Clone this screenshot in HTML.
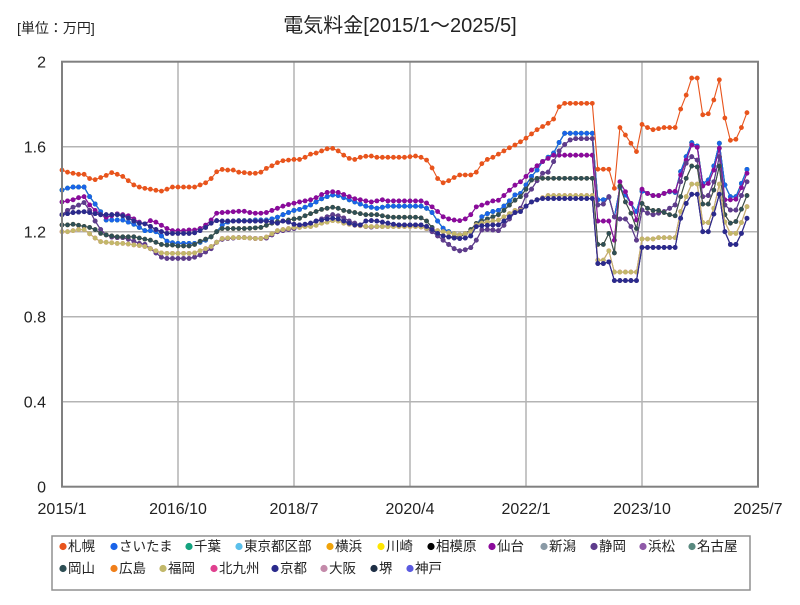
<!DOCTYPE html>
<html><head><meta charset="utf-8"><style>
body{margin:0;background:#fff}
svg text{font-family:"Liberation Sans","Noto Sans CJK JP",sans-serif}
</style></head><body>
<svg id="chart" width="800" height="600" xmlns="http://www.w3.org/2000/svg">
<rect width="800" height="600" fill="#fff"/>
<text x="400" y="32" text-anchor="middle" font-size="20" fill="#222">電気料金[2015/1～2025/5]</text>
<text x="17" y="33" font-size="14" fill="#222">[単位：万円]</text>
<g id="grid"></g>
<g id="series"></g>
<rect x="62" y="61.7" width="696" height="425" fill="none" stroke="#808080" stroke-width="2"/>
<g id="axes"></g>
<rect x="52" y="536" width="698" height="54" fill="#fff" stroke="#909090" stroke-width="1.5"/>
<g id="legend"></g>
</svg>
<script>
const yTicks=[0,0.4,0.8,1.2,1.6,2];
const yTickLabels=["0","0.4","0.8","1.2","1.6","2"];
const xTickIdx=[0,21,42,63,84,105,126];
const xTickLabels=["2015/1","2016/10","2018/7","2020/4","2022/1","2023/10","2025/7"];
const sapporo=[1.49,1.48,1.475,1.47,1.47,1.45,1.445,1.455,1.465,1.478,
1.47,1.46,1.44,1.42,1.41,1.404,1.40,1.395,1.391,1.40,
1.41,1.41,1.41,1.41,1.41,1.42,1.43,1.45,1.482,1.493,
1.49,1.49,1.48,1.478,1.475,1.475,1.48,1.498,1.51,1.525,
1.534,1.537,1.54,1.54,1.55,1.565,1.57,1.58,1.59,1.592,
1.58,1.56,1.545,1.54,1.55,1.555,1.556,1.55,1.55,1.55,
1.55,1.55,1.55,1.553,1.556,1.55,1.537,1.50,1.45,1.43,
1.44,1.455,1.467,1.467,1.467,1.48,1.52,1.54,1.55,1.565,
1.58,1.595,1.608,1.623,1.64,1.66,1.68,1.695,1.71,1.73,
1.788,1.804,1.804,1.804,1.804,1.804,1.804,1.494,1.494,1.494,
1.404,1.69,1.655,1.616,1.577,1.705,1.69,1.68,1.685,1.69,
1.69,1.69,1.777,1.843,1.923,1.923,1.75,1.755,1.82,1.915,
1.735,1.63,1.635,1.69,1.76];
const tepco=[1.396,1.405,1.41,1.41,1.41,1.365,1.33,1.294,1.255,1.255,
1.255,1.255,1.245,1.235,1.22,1.205,1.205,1.2,1.18,1.155,
1.148,1.145,1.145,1.145,1.145,1.15,1.16,1.176,1.2,1.231,
1.245,1.25,1.252,1.252,1.252,1.255,1.255,1.255,1.26,1.268,
1.28,1.29,1.3,1.305,1.315,1.326,1.34,1.355,1.365,1.373,
1.37,1.36,1.35,1.34,1.33,1.32,1.315,1.31,1.315,1.32,
1.32,1.32,1.32,1.32,1.32,1.32,1.31,1.29,1.25,1.216,
1.2,1.19,1.185,1.19,1.2,1.23,1.27,1.285,1.295,1.3,
1.32,1.345,1.373,1.38,1.42,1.46,1.49,1.53,1.55,1.57,
1.62,1.663,1.663,1.663,1.663,1.663,1.663,1.35,1.35,1.362,
1.27,1.407,1.372,1.333,1.295,1.39,1.38,1.37,1.37,1.38,
1.388,1.385,1.483,1.553,1.619,1.603,1.427,1.443,1.509,1.616,
1.42,1.365,1.365,1.427,1.493];
const tohoku=[1.34,1.345,1.35,1.36,1.365,1.326,1.30,1.28,1.268,1.275,
1.284,1.28,1.275,1.26,1.245,1.237,1.252,1.245,1.23,1.215,
1.205,1.205,1.205,1.208,1.208,1.215,1.231,1.255,1.287,1.29,
1.292,1.294,1.296,1.296,1.29,1.287,1.287,1.29,1.3,1.31,
1.32,1.328,1.334,1.34,1.345,1.35,1.36,1.375,1.385,1.388,
1.385,1.375,1.365,1.355,1.35,1.345,1.34,1.345,1.35,1.345,
1.345,1.345,1.345,1.345,1.345,1.345,1.335,1.317,1.295,1.27,
1.26,1.255,1.252,1.26,1.28,1.317,1.325,1.335,1.345,1.348,
1.37,1.395,1.419,1.435,1.46,1.49,1.51,1.53,1.545,1.56,
1.56,1.56,1.56,1.56,1.56,1.56,1.56,1.25,1.25,1.25,
1.16,1.435,1.388,1.333,1.255,1.40,1.38,1.37,1.37,1.38,
1.39,1.39,1.467,1.537,1.608,1.597,1.415,1.427,1.49,1.593,
1.35,1.35,1.353,1.407,1.475];
const chubu=[1.28,1.3,1.315,1.325,1.337,1.30,1.25,1.21,1.185,1.175,
1.172,1.172,1.165,1.155,1.145,1.14,1.12,1.10,1.08,1.074,
1.074,1.074,1.074,1.074,1.08,1.09,1.105,1.12,1.15,1.164,
1.168,1.17,1.172,1.172,1.17,1.168,1.168,1.17,1.185,1.2,
1.205,1.21,1.215,1.224,1.23,1.237,1.25,1.26,1.27,1.28,
1.275,1.265,1.25,1.24,1.23,1.224,1.222,1.224,1.225,1.225,
1.228,1.23,1.23,1.23,1.23,1.228,1.215,1.2,1.18,1.16,
1.14,1.12,1.11,1.115,1.125,1.16,1.208,1.21,1.208,1.205,
1.23,1.26,1.29,1.31,1.37,1.40,1.44,1.475,1.48,1.53,
1.58,1.61,1.632,1.638,1.638,1.638,1.638,1.326,1.33,1.365,
1.27,1.26,1.26,1.224,1.16,1.302,1.287,1.28,1.287,1.295,
1.31,1.326,1.435,1.522,1.553,1.537,1.365,1.37,1.435,1.553,
1.326,1.302,1.302,1.37,1.435];
const chugoku=[1.232,1.232,1.235,1.23,1.225,1.22,1.21,1.192,1.185,1.18,
1.176,1.176,1.176,1.176,1.17,1.165,1.16,1.15,1.14,1.137,
1.137,1.133,1.133,1.133,1.14,1.155,1.165,1.176,1.2,1.215,
1.215,1.215,1.215,1.215,1.216,1.218,1.22,1.23,1.24,1.247,
1.25,1.255,1.26,1.263,1.275,1.285,1.295,1.305,1.31,1.315,
1.31,1.3,1.295,1.29,1.285,1.28,1.28,1.28,1.275,1.27,
1.268,1.268,1.268,1.268,1.268,1.265,1.25,1.22,1.192,1.18,
1.176,1.176,1.176,1.19,1.21,1.239,1.25,1.26,1.27,1.28,
1.3,1.325,1.348,1.365,1.4,1.443,1.451,1.451,1.451,1.451,
1.451,1.451,1.451,1.451,1.451,1.451,1.451,1.14,1.14,1.192,
1.10,1.415,1.34,1.287,1.215,1.333,1.31,1.30,1.30,1.29,
1.28,1.275,1.365,1.451,1.509,1.505,1.33,1.33,1.396,1.509,
1.28,1.24,1.248,1.306,1.37];
const kyushu=[1.2,1.2,1.205,1.21,1.21,1.19,1.17,1.153,1.15,1.148,
1.145,1.145,1.142,1.138,1.135,1.13,1.12,1.11,1.10,1.098,
1.098,1.098,1.098,1.098,1.10,1.11,1.12,1.13,1.15,1.168,
1.17,1.172,1.172,1.172,1.17,1.168,1.168,1.175,1.19,1.205,
1.21,1.215,1.22,1.22,1.224,1.224,1.23,1.24,1.245,1.252,
1.25,1.24,1.235,1.23,1.228,1.225,1.224,1.224,1.224,1.224,
1.224,1.224,1.224,1.224,1.224,1.222,1.215,1.21,1.205,1.2,
1.195,1.19,1.185,1.19,1.2,1.232,1.24,1.245,1.25,1.255,
1.27,1.285,1.30,1.30,1.32,1.34,1.35,1.36,1.37,1.37,
1.37,1.37,1.37,1.37,1.37,1.37,1.37,1.066,1.066,1.11,
1.01,1.01,1.01,1.01,1.01,1.166,1.166,1.166,1.172,1.172,
1.172,1.172,1.295,1.365,1.424,1.424,1.243,1.243,1.31,1.424,
1.246,1.192,1.192,1.243,1.318];
const kansai=[1.28,1.285,1.29,1.292,1.294,1.29,1.285,1.28,1.28,1.28,
1.28,1.275,1.265,1.25,1.24,1.237,1.225,1.21,1.2,1.192,
1.192,1.192,1.192,1.192,1.195,1.205,1.22,1.24,1.252,1.25,
1.25,1.25,1.25,1.25,1.25,1.25,1.25,1.25,1.245,1.24,
1.25,1.245,1.235,1.232,1.235,1.24,1.25,1.255,1.26,1.263,
1.26,1.25,1.24,1.232,1.232,1.25,1.252,1.25,1.245,1.24,
1.235,1.232,1.232,1.232,1.232,1.232,1.225,1.21,1.192,1.18,
1.175,1.17,1.168,1.17,1.18,1.224,1.228,1.23,1.232,1.232,
1.25,1.27,1.29,1.295,1.32,1.34,1.35,1.356,1.356,1.356,
1.356,1.356,1.356,1.356,1.356,1.356,1.356,1.05,1.05,1.058,
0.97,0.97,0.97,0.97,0.97,1.126,1.126,1.126,1.126,1.126,
1.126,1.126,1.263,1.333,1.376,1.376,1.2,1.2,1.283,1.376,
1.2,1.14,1.14,1.192,1.263];
const cityNames=["札幌","さいたま","千葉","東京都区部","横浜","川崎","相模原","仙台","新潟","静岡","浜松","名古屋","岡山","広島","福岡","北九州","京都","大阪","堺","神戸"];
const cityColors=["#e8541c","#1a63e8","#14a37f","#5bc0eb","#f0a30a","#ffe600","#000000","#8b0a9b","#8a9aa6","#5e3c8c","#8f5aa8","#5a8a80","#2f4f55","#f07f1a","#c2b86a","#e0408f","#2a2a8c","#c48aaa","#1e2f45","#5a5ae0"];
const cityData=[sapporo,tepco,tepco,tepco,tepco,tepco,tepco,tohoku,tohoku,chubu,chubu,chubu,chugoku,chugoku,kyushu,kyushu,kansai,kansai,kansai,kansai];
const drawOrder=[6,5,4,3,2,1,8,7,11,10,9,13,12,15,14,19,18,17,16,0];
const legendX=[59,110,185,235,326,377,427,488,540,590,639,688,59,110,159,210,271,320,370,406];

const NS="http://www.w3.org/2000/svg";
const X0=62,X1=758,Y0=486.7,Y1=61.7;
function xs(i){return X0+(X1-X0)*i/126;}
function ys(v){return Y0-(Y0-Y1)*v/2;}
function mk(tag,attrs,parent){const e=document.createElementNS(NS,tag);for(const k in attrs)e.setAttribute(k,attrs[k]);parent.appendChild(e);return e;}
const grid=document.getElementById('grid'),axes=document.getElementById('axes'),ser=document.getElementById('series'),leg=document.getElementById('legend');
yTicks.forEach((t,k)=>{
  if(t>0&&t<2){const l=mk('line',{x1:X0,x2:X1,y1:ys(t),y2:ys(t),stroke:'#b4b4b4','stroke-width':1.5},grid);
  
  }
  const tx=mk('text',{x:46,y:ys(t)+6,'text-anchor':'end','font-size':16,fill:'#222'},axes);
  tx.textContent=yTickLabels[k];
  
  
});
xTickIdx.forEach((t,k)=>{
  if(k>0&&k<xTickIdx.length-1){const l=mk('line',{x1:xs(t),x2:xs(t),y1:Y1,y2:Y0,stroke:'#b4b4b4','stroke-width':1.5},grid);
  
  }
  const tx=mk('text',{x:xs(t),y:514,'text-anchor':'middle','font-size':16,fill:'#222'},axes);
  tx.textContent=xTickLabels[k];
  
  
});
drawOrder.forEach(s=>{
  const d=cityData[s],c=cityColors[s];
  const g=mk('g',{},ser);
  
  
  const pts=d.map((v,i)=>xs(i).toFixed(2)+','+ys(v).toFixed(2)).join(' ');
  const pl=mk('polyline',{points:pts,fill:'none',stroke:c,'stroke-width':1.1},g);
  
  
  d.forEach((v,i)=>{const p=mk('circle',{cx:xs(i),cy:ys(v),r:2.4,fill:c},g);
    
    });
});
cityNames.forEach((n,k)=>{
  const row=k<12?0:1,y=row?573:551,x=legendX[k];
  const g=mk('g',{},leg);
  
  
  mk('circle',{cx:x+4,cy:y-4.5,r:3.6,fill:cityColors[k]},g);
  const t=mk('text',{x:x+9,y:y,'font-size':13.5,fill:'#222'},g);
  t.textContent=n;
});
</script>
</body></html>
